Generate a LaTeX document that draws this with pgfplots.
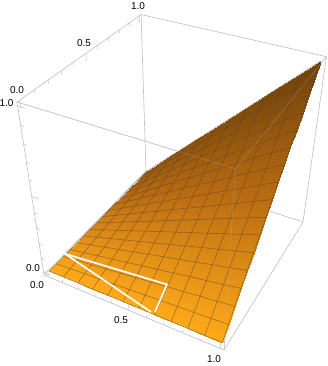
\documentclass[border=0pt]{standalone}
\usepackage{pgfplots}
\pgfplotsset{compat=1.18}
\usepackage{fontspec}
\setmainfont{Liberation Sans}
% perspective of the box: data x,y,z in -0.02..1.02
\pgfmathdeclarefunction{pu}{3}{\pgfmathparse{(44+155.9*(#1+.02)/1.04+131.29*(#2+.02)/1.04-29.89*(#3+.02)/1.04)/(1-.1076*(#1+.02)/1.04+.2006*(#2+.02)/1.04-.17*(#3+.02)/1.04)}}
\pgfmathdeclarefunction{pv}{3}{\pgfmathparse{(275+37.34*(#1+.02)/1.04-69.7*(#2+.02)/1.04-190.34*(#3+.02)/1.04)/(1-.1076*(#1+.02)/1.04+.2006*(#2+.02)/1.04-.17*(#3+.02)/1.04)}}
\definecolor{boxg}{RGB}{190,190,190}
\definecolor{lab}{RGB}{125,125,125}
\definecolor{meshc}{RGB}{85,65,40}
\begin{document}
\begin{tikzpicture}
\begin{axis}[at={(0,0)},anchor=south west,scale only axis,width=327pt,height=366pt,xmin=0,xmax=327,ymin=0,ymax=366,y dir=reverse,
  axis lines=none,clip=false,
  colormap={org}{rgb255=(255,170,26) rgb255=(186,108,18) rgb255=(112,66,10)},
  point meta min=0,point meta max=1,
  every node/.style={font=\fontsize{9}{10}\selectfont,text=lab,inner sep=0pt}]
% hidden box edges
\addplot[boxg,line width=.6pt,empty line=jump] table[x expr={pu(\thisrow{x},\thisrow{y},\thisrow{z})},y expr={pv(\thisrow{x},\thisrow{y},\thisrow{z})}] {
x y z
-.02 -.02 -.02
1.02 -.02 -.02
1.02 1.02 -.02
-.02 1.02 -.02
-.02 -.02 -.02
-.02 -.02 1.02
-.02 1.02 1.02
-.02 1.02 -.02

-.02 1.02 1.02
1.02 1.02 1.02
1.02 1.02 -.02

-.02 -.02 1.02
1.02 -.02 1.02
1.02 1.02 1.02

1.02 -.02 1.02
1.02 -.02 -.02
};
% ticks
\addplot[boxg,line width=.5pt,empty line=jump] table[x expr={pu(\thisrow{x},\thisrow{y},\thisrow{z})},y expr={pv(\thisrow{x},\thisrow{y},\thisrow{z})}] {
x y z
0 -.02 -.02
0 -.02 .02

.1 -.02 -.02
.1 -.02 0

.2 -.02 -.02
.2 -.02 0

.3 -.02 -.02
.3 -.02 0

.4 -.02 -.02
.4 -.02 0

.5 -.02 -.02
.5 -.02 .02

.6 -.02 -.02
.6 -.02 0

.7 -.02 -.02
.7 -.02 0

.8 -.02 -.02
.8 -.02 0

.9 -.02 -.02
.9 -.02 0

1 -.02 -.02
1 -.02 .02

-.02 0 1.02
-.02 0 .98

-.02 .1 1.02
-.02 .1 1

-.02 .2 1.02
-.02 .2 1

-.02 .3 1.02
-.02 .3 1

-.02 .4 1.02
-.02 .4 1

-.02 .5 1.02
-.02 .5 .98

-.02 .6 1.02
-.02 .6 1

-.02 .7 1.02
-.02 .7 1

-.02 .8 1.02
-.02 .8 1

-.02 .9 1.02
-.02 .9 1

-.02 1 1.02
-.02 1 .98

-.02 -.02 0
.02 -.02 0

-.02 -.02 .1
0 -.02 .1

-.02 -.02 .2
0 -.02 .2

-.02 -.02 .3
0 -.02 .3

-.02 -.02 .4
0 -.02 .4

-.02 -.02 .5
.02 -.02 .5

-.02 -.02 .6
0 -.02 .6

-.02 -.02 .7
0 -.02 .7

-.02 -.02 .8
0 -.02 .8

-.02 -.02 .9
0 -.02 .9

-.02 -.02 1
.02 -.02 1
};
% surface
\addplot[surf,shader=interp,mesh/cols=17,mesh/ordering=x varies,point meta=explicit]
table[row sep=\\,x expr={pu(\thisrow{x},\thisrow{y},\thisrow{z})},y expr={pv(\thisrow{x},\thisrow{y},\thisrow{z})},meta expr={\thisrow{y}*(.72+.28*\thisrow{x})}] {
x y z\\
0 0 0\\.0625 0 0\\.125 0 0\\.1875 0 0\\.25 0 0\\.3125 0 0\\.375 0 0\\.4375 0 0\\.5 0 0\\.5625 0 0\\.625 0 0\\.6875 0 0\\.75 0 0\\.8125 0 0\\.875 0 0\\.9375 0 0\\1 0 0\\
0 .0625 0\\.0625 .0625 .0039\\.125 .0625 .0078\\.1875 .0625 .0117\\.25 .0625 .0156\\.3125 .0625 .0195\\.375 .0625 .0234\\.4375 .0625 .0273\\.5 .0625 .0313\\.5625 .0625 .0352\\.625 .0625 .0391\\.6875 .0625 .0430\\.75 .0625 .0469\\.8125 .0625 .0508\\.875 .0625 .0547\\.9375 .0625 .0586\\1 .0625 .0625\\
0 .125 0\\.0625 .125 .0078\\.125 .125 .0156\\.1875 .125 .0234\\.25 .125 .0313\\.3125 .125 .0391\\.375 .125 .0469\\.4375 .125 .0547\\.5 .125 .0625\\.5625 .125 .0703\\.625 .125 .0781\\.6875 .125 .0859\\.75 .125 .0938\\.8125 .125 .1016\\.875 .125 .1094\\.9375 .125 .1172\\1 .125 .125\\
0 .1875 0\\.0625 .1875 .0117\\.125 .1875 .0234\\.1875 .1875 .0352\\.25 .1875 .0469\\.3125 .1875 .0586\\.375 .1875 .0703\\.4375 .1875 .0820\\.5 .1875 .0938\\.5625 .1875 .1055\\.625 .1875 .1172\\.6875 .1875 .1289\\.75 .1875 .1406\\.8125 .1875 .1523\\.875 .1875 .1641\\.9375 .1875 .1758\\1 .1875 .1875\\
0 .25 0\\.0625 .25 .0156\\.125 .25 .0313\\.1875 .25 .0469\\.25 .25 .0625\\.3125 .25 .0781\\.375 .25 .0938\\.4375 .25 .1094\\.5 .25 .125\\.5625 .25 .1406\\.625 .25 .1563\\.6875 .25 .1719\\.75 .25 .1875\\.8125 .25 .2031\\.875 .25 .2188\\.9375 .25 .2344\\1 .25 .25\\
0 .3125 0\\.0625 .3125 .0195\\.125 .3125 .0391\\.1875 .3125 .0586\\.25 .3125 .0781\\.3125 .3125 .0977\\.375 .3125 .1172\\.4375 .3125 .1367\\.5 .3125 .1563\\.5625 .3125 .1758\\.625 .3125 .1953\\.6875 .3125 .2148\\.75 .3125 .2344\\.8125 .3125 .2539\\.875 .3125 .2734\\.9375 .3125 .2930\\1 .3125 .3125\\
0 .375 0\\.0625 .375 .0234\\.125 .375 .0469\\.1875 .375 .0703\\.25 .375 .0938\\.3125 .375 .1172\\.375 .375 .1406\\.4375 .375 .1641\\.5 .375 .1875\\.5625 .375 .2109\\.625 .375 .2344\\.6875 .375 .2578\\.75 .375 .2813\\.8125 .375 .3047\\.875 .375 .3281\\.9375 .375 .3516\\1 .375 .375\\
0 .4375 0\\.0625 .4375 .0273\\.125 .4375 .0547\\.1875 .4375 .0820\\.25 .4375 .1094\\.3125 .4375 .1367\\.375 .4375 .1641\\.4375 .4375 .1914\\.5 .4375 .2188\\.5625 .4375 .2461\\.625 .4375 .2734\\.6875 .4375 .3008\\.75 .4375 .3281\\.8125 .4375 .3555\\.875 .4375 .3828\\.9375 .4375 .4102\\1 .4375 .4375\\
0 .5 0\\.0625 .5 .0313\\.125 .5 .0625\\.1875 .5 .0938\\.25 .5 .125\\.3125 .5 .1563\\.375 .5 .1875\\.4375 .5 .2188\\.5 .5 .25\\.5625 .5 .2813\\.625 .5 .3125\\.6875 .5 .3438\\.75 .5 .375\\.8125 .5 .4063\\.875 .5 .4375\\.9375 .5 .4688\\1 .5 .5\\
0 .5625 0\\.0625 .5625 .0352\\.125 .5625 .0703\\.1875 .5625 .1055\\.25 .5625 .1406\\.3125 .5625 .1758\\.375 .5625 .2109\\.4375 .5625 .2461\\.5 .5625 .2813\\.5625 .5625 .3164\\.625 .5625 .3516\\.6875 .5625 .3867\\.75 .5625 .4219\\.8125 .5625 .4570\\.875 .5625 .4922\\.9375 .5625 .5273\\1 .5625 .5625\\
0 .625 0\\.0625 .625 .0391\\.125 .625 .0781\\.1875 .625 .1172\\.25 .625 .1563\\.3125 .625 .1953\\.375 .625 .2344\\.4375 .625 .2734\\.5 .625 .3125\\.5625 .625 .3516\\.625 .625 .3906\\.6875 .625 .4297\\.75 .625 .4688\\.8125 .625 .5078\\.875 .625 .5469\\.9375 .625 .5859\\1 .625 .625\\
0 .6875 0\\.0625 .6875 .0430\\.125 .6875 .0859\\.1875 .6875 .1289\\.25 .6875 .1719\\.3125 .6875 .2148\\.375 .6875 .2578\\.4375 .6875 .3008\\.5 .6875 .3438\\.5625 .6875 .3867\\.625 .6875 .4297\\.6875 .6875 .4727\\.75 .6875 .5156\\.8125 .6875 .5586\\.875 .6875 .6016\\.9375 .6875 .6445\\1 .6875 .6875\\
0 .75 0\\.0625 .75 .0469\\.125 .75 .0938\\.1875 .75 .1406\\.25 .75 .1875\\.3125 .75 .2344\\.375 .75 .2813\\.4375 .75 .3281\\.5 .75 .375\\.5625 .75 .4219\\.625 .75 .4688\\.6875 .75 .5156\\.75 .75 .5625\\.8125 .75 .6094\\.875 .75 .6563\\.9375 .75 .7031\\1 .75 .75\\
0 .8125 0\\.0625 .8125 .0508\\.125 .8125 .1016\\.1875 .8125 .1523\\.25 .8125 .2031\\.3125 .8125 .2539\\.375 .8125 .3047\\.4375 .8125 .3555\\.5 .8125 .4063\\.5625 .8125 .4570\\.625 .8125 .5078\\.6875 .8125 .5586\\.75 .8125 .6094\\.8125 .8125 .6602\\.875 .8125 .7109\\.9375 .8125 .7617\\1 .8125 .8125\\
0 .875 0\\.0625 .875 .0547\\.125 .875 .1094\\.1875 .875 .1641\\.25 .875 .2188\\.3125 .875 .2734\\.375 .875 .3281\\.4375 .875 .3828\\.5 .875 .4375\\.5625 .875 .4922\\.625 .875 .5469\\.6875 .875 .6016\\.75 .875 .6563\\.8125 .875 .7109\\.875 .875 .7656\\.9375 .875 .8203\\1 .875 .875\\
0 .9375 0\\.0625 .9375 .0586\\.125 .9375 .1172\\.1875 .9375 .1758\\.25 .9375 .2344\\.3125 .9375 .2930\\.375 .9375 .3516\\.4375 .9375 .4102\\.5 .9375 .4688\\.5625 .9375 .5273\\.625 .9375 .5859\\.6875 .9375 .6445\\.75 .9375 .7031\\.8125 .9375 .7617\\.875 .9375 .8203\\.9375 .9375 .8789\\1 .9375 .9375\\
0 1 0\\.0625 1 .0625\\.125 1 .125\\.1875 1 .1875\\.25 1 .25\\.3125 1 .3125\\.375 1 .375\\.4375 1 .4375\\.5 1 .5\\.5625 1 .5625\\.625 1 .625\\.6875 1 .6875\\.75 1 .75\\.8125 1 .8125\\.875 1 .875\\.9375 1 .9375\\1 1 1\\
};
% mesh lines of the surface (straight, since the surface is ruled)
\addplot[meshc,opacity=.6,line width=.5pt,empty line=jump] table[x expr={pu(\thisrow{x},\thisrow{y},\thisrow{z})},y expr={pv(\thisrow{x},\thisrow{y},\thisrow{z})}] {
x y z
0 0 0
0 1 0

.0909 0 0
.0909 1 .0909

.1818 0 0
.1818 1 .1818

.2727 0 0
.2727 1 .2727

.3636 0 0
.3636 1 .3636

.4545 0 0
.4545 1 .4545

.5455 0 0
.5455 1 .5455

.6364 0 0
.6364 1 .6364

.7273 0 0
.7273 1 .7273

.8182 0 0
.8182 1 .8182

.9091 0 0
.9091 1 .9091

1 0 0
1 1 1

0 0 0
1 0 0

0 .0625 0
1 .0625 .0625

0 .125 0
1 .125 .125

0 .1875 0
1 .1875 .1875

0 .25 0
1 .25 .25

0 .3125 0
1 .3125 .3125

0 .375 0
1 .375 .375

0 .4375 0
1 .4375 .4375

0 .5 0
1 .5 .5

0 .5625 0
1 .5625 .5625

0 .625 0
1 .625 .625

0 .6875 0
1 .6875 .6875

0 .75 0
1 .75 .75

0 .8125 0
1 .8125 .8125

0 .875 0
1 .875 .875

0 .9375 0
1 .9375 .9375

0 1 0
1 1 1
};
% front box edges, faint over the surface
\addplot[boxg,opacity=.3,line width=.6pt,empty line=jump] table[x expr={pu(\thisrow{x},\thisrow{y},\thisrow{z})},y expr={pv(\thisrow{x},\thisrow{y},\thisrow{z})}] {
x y z
-.02 -.02 1.02
1.02 -.02 1.02
1.02 1.02 1.02

1.02 -.02 1.02
1.02 -.02 -.02
};
% white outline
\addplot[white,line width=1.7pt,line join=miter] coordinates {(64,253.5) (167,284.5) (155,312)};
\addplot[white,line width=1.7pt] coordinates {(66,254.5) (151,312)};
\node at (axis cs:33,268) {0.0};
\node at (axis cs:6.5,103) {1.0};
\node at (axis cs:37,285) {0.0};
\node at (axis cs:121,320) {0.5};
\node at (axis cs:214,359) {1.0};
\node at (axis cs:17,90) {0.0};
\node at (axis cs:84,43) {0.5};
\node at (axis cs:138,6) {1.0};
\end{axis}
\pgfresetboundingbox
\path[use as bounding box] (0,0) rectangle (327pt,366pt);
\end{tikzpicture}
\end{document}
